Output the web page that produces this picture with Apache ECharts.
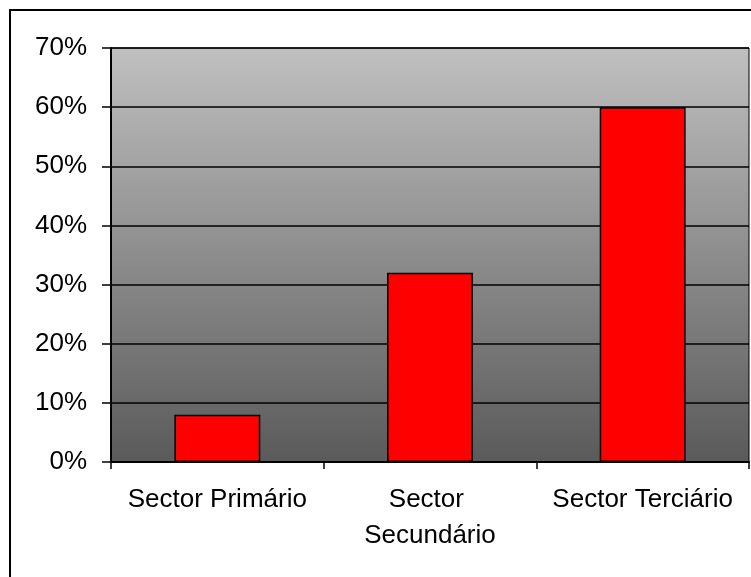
<!DOCTYPE html>
<html>
<head>
<meta charset="utf-8">
<script src="https://cdn.jsdelivr.net/npm/echarts@6/dist/echarts.min.js"></script>
<style>
  * { margin: 0; padding: 0; }
  body { background: #fff; }
</style>
</head>
<body>
<div id="sectorChart" style="width: 751px;height: 577px;"></div>
<script>
  // dados do gráfico
  var sectores = ['Sector Primário', 'Sector Secundário', 'Sector Terciário'];
  var percentagens = [8, 32, 60];
  var yMax = 70;
  var yStep = 10;

  var chart = echarts.init(document.getElementById('sectorChart'));
  chart.setOption({
    animation: false,
    backgroundColor: '#fff',
    textStyle: { fontFamily: 'Liberation Sans, Arial, sans-serif' },
    // moldura exterior (cortada à direita e em baixo)
    graphic: [{
      type: 'rect',
      shape: { x: 10, y: 10, width: 900, height: 800 },
      style: { fill: 'none', stroke: '#000', lineWidth: 2 },
      silent: true
    }],
    grid: {
      left: 111, top: 48, right: 2, bottom: 115,
      show: true,
      borderColor: '#000',
      borderWidth: 1,
      backgroundColor: {
        type: 'linear', x: 0, y: 0, x2: 0, y2: 1,
        colorStops: [
          { offset: 0, color: '#c0c0c0' },
          { offset: 1, color: '#5a5a5a' }
        ]
      }
    },
    xAxis: {
      type: 'category',
      data: sectores,
      axisLine: { lineStyle: { color: '#000', width: 2 } },
      axisTick: { show: true, length: 7, lineStyle: { color: '#000', width: 1.5 } },
      axisLabel: {
        interval: 0,
        color: '#000',
        fontSize: 26,
        lineHeight: 36,
        margin: 20,
        width: 200,
        overflow: 'break'
      }
    },
    yAxis: {
      type: 'value',
      min: 0,
      max: yMax,
      interval: yStep,
      axisLine: { show: true, lineStyle: { color: '#000', width: 2 } },
      axisTick: { show: true, length: 9, lineStyle: { color: '#000', width: 1.5 } },
      axisLabel: {
        formatter: '{value}%',
        color: '#000',
        fontSize: 26,
        margin: 24
      },
      splitLine: { show: true, lineStyle: { color: '#000', width: 1.5 } }
    },
    series: [{
      type: 'bar',
      data: percentagens,
      barWidth: '40.4%',
      itemStyle: { color: '#ff0000', borderColor: '#000', borderWidth: 1.5 }
    }]
  });
</script>
</body>
</html>
